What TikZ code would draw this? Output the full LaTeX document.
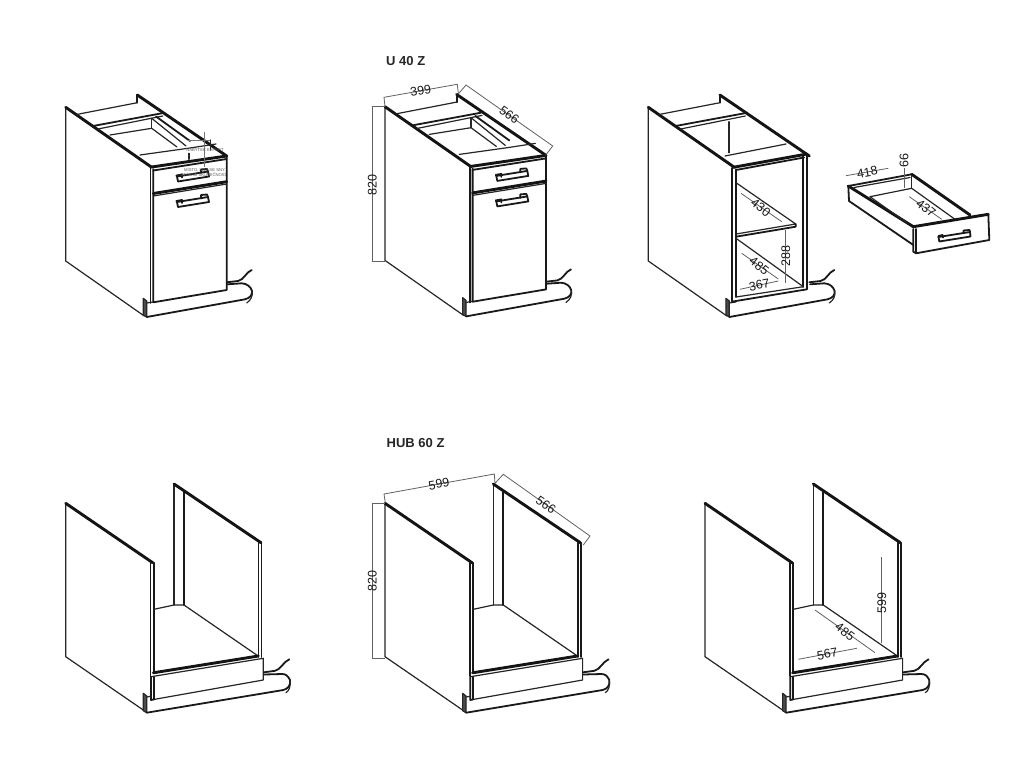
\documentclass[tikz,border=0pt]{standalone}
\usepackage{fontspec}
\setmainfont{Liberation Sans}
\tikzset{
  heavy/.style={line width=2.9pt,draw=black!92,line cap=round,line join=round},
  med/.style={line width=1.8pt,draw=black!90,line cap=round,line join=round},
  fine/.style={line width=1.2pt,draw=black!85,line cap=round,line join=round},
  dimline/.style={line width=.8pt,draw=black!62},
  dimtext/.style={font=\fontsize{12.5}{12.5}\selectfont,text=black!90,inner sep=0pt},
  titletext/.style={font=\fontsize{13}{13}\selectfont\bfseries,text=black!85,inner sep=0pt,anchor=west},
  wmline/.style={line width=.5pt,draw=black!55},
  marktext/.style={font=\fontsize{4.2}{5}\selectfont,text=black!65,inner sep=0pt,align=center}
}
\newcommand{\plinthU}{
  \draw[fine,fill=black!70] (143.3,298.3) -- (143.3,315) -- (146.7,317) -- (146.7,301) -- cycle;
  \draw[fine] (146.7,303) -- (153.3,302);
  \draw[med] (146.7,317) -- (245,299.3) .. controls (250,298) and (252.5,295) .. (252,291)
     .. controls (251,287) and (247,283.5) .. (241.7,283.3) -- (227.5,284.3);
  \draw[med] (226.7,282.3) -- (238,281) .. controls (244,280) and (246,272) .. (251.7,270);
  \draw[fine] (252,291) .. controls (253,296) and (251,300) .. (246.7,303);
}
\newcommand{\sideU}{
  \draw[fine] (65.7,107.3) -- (65.7,261) -- (144.3,316);
  \draw[heavy] (65.7,107.3) -- (151.7,167.3);
  \draw[heavy] (137.3,95) -- (226.7,156);
  \draw[med] (137.3,95) -- (137.3,102.7);
  \draw[fine] (76.5,114.5) -- (137.3,102.7);
  \draw[med] (93,126) -- (161.7,113.3);
  \draw[fine] (98,129) -- (162.7,116);
}
\newcommand{\handleU}[2]{
  \begin{scope}[shift={(#1,#2)}]
    \draw[med,fill=white] (0,0) -- (1,5) -- (32,0) -- (31,-5) -- cycle;
    \draw[med] (0,0) -- (-.5,-1) -- (5,-2) -- (5,1);
    \draw[med] (24,-3.5) -- (24,-7) -- (30,-7.5) -- (31,-5);
  \end{scope}
}
\newcommand{\frontU}{
  \draw[fine] (110,135) -- (151.7,128.3);
  \draw[fine] (151.7,118.3) -- (151.7,128.3);
  \draw[fine] (151.7,118.3) -- (186,146);
  \draw[med] (156,116.5) -- (190,141);
  \draw[fine] (151.7,128.3) -- (177,147);
  \draw[fine] (140,155) -- (190,148) -- (216,144);
  \draw[med] (150.5,167) -- (150.5,303);
  \draw[med] (153.3,169.3) -- (153.3,302.3) -- (226.7,290) -- (226.7,156);
  \draw[heavy] (151.7,167) -- (226.7,156);
  \draw[med] (153.3,170.5) -- (226.7,159);
  \draw[heavy] (153.3,193.5) -- (226.7,181.7);
  \draw[fine] (153.3,196) -- (226.7,184);
  \handleU{177}{176.5}
  \handleU{177}{202}
}
\newcommand{\lowerbody}{
  \draw[fine] (65.7,503.3) -- (65.7,656.7) -- (144.3,710.7);
  \draw[heavy] (65.7,503.3) -- (152.7,562.7);
  \draw[med] (150.5,562.7) -- (150.5,676);
  \draw[med] (153.7,562.7) -- (153.7,673);
  \draw[fine] (154,609.3) -- (174,605) -- (184,605);
  \draw[fine] (174,484) -- (174,605);
  \draw[med] (184,491.7) -- (184,605);
  \draw[heavy] (174,484) -- (261,542.7);
  \draw[fine] (184,605) -- (256.7,655);
  \draw[med] (258.5,542.7) -- (258.5,657);
  \draw[med] (261.5,542.7) -- (261.5,657);
  \draw[heavy] (153.3,672.8) -- (258.3,656);
  \draw[fine] (151,676.7) -- (263.3,658.3) -- (263.3,680) -- (153.5,699.5);
  \draw[med] (151,676.7) -- (151,700) -- (153.5,699.5);
  \draw[med] (153.7,677) -- (153.7,699.5);
  \draw[fine,fill=black!70] (143.3,693.3) -- (143.3,710.7) -- (146.7,712.7) -- (146.7,696) -- cycle;
  \draw[fine] (146.7,697) -- (151,696.3);
  \draw[med] (146.7,712.7) -- (283.3,690) .. controls (288,689) and (291,685) .. (290,680)
     .. controls (288,676) and (286,674) .. (282,674) -- (264,674.5);
  \draw[med] (263.8,672.3) -- (275,670.8) .. controls (281,669.5) and (283,662) .. (289.3,659.3);
  \draw[fine] (290,680) .. controls (291,686) and (289,691) .. (286,692.7);
}
\newcommand{\dimtxt}[5]{\node[dimtext,rotate=#4] (#1) at (#2,#3) {#5};}
\begin{document}
\begin{tikzpicture}[x=1pt,y=-1pt]
\useasboundingbox (0,0) rectangle (1024,768);
\fill[white] (0,0) rectangle (1024,768);

% upper left cabinet
\sideU \plinthU \frontU
\draw[wmline] (204.3,132) -- (204.3,166.7) (188,140) -- (210.7,140);
\draw[fine] (210.7,140) -- (210.7,150) (189,153.3) -- (189,159.3);
\node[marktext] (wm1) at (205,150) {NÁBYTEK EXPERT};
\node[marktext] (wm2) at (204.5,172) {MÍSTO, KDE SE SNY\\STÁVAJÍ SKUTEČNOSTÍ};

% upper middle cabinet
\begin{scope}[shift={(319.3,-.6)}]
  \sideU \plinthU \frontU
\end{scope}
\node[titletext] (t1) at (386,60.7) {U 40 Z};
\coordinate (a1) at (385,106.7); \coordinate (a2) at (384,97.3);
\coordinate (a3) at (457.3,84.3); \coordinate (a4) at (458.3,93.3);
\draw[dimline] (a1) -- (a2) -- (a3) -- (a4);
\coordinate (b1) at (458.3,94); \coordinate (b2) at (466,85);
\coordinate (b3) at (552.7,146); \coordinate (b4) at (545.7,155);
\draw[dimline] (b1) -- (b2) -- (b3) -- (b4);
\coordinate (c1) at (385,106.7); \coordinate (c2) at (372.3,106.7);
\coordinate (c3) at (372.3,261.7); \coordinate (c4) at (385,261.7);
\draw[dimline] (c1) -- (c2) -- (c3) -- (c4);
\dimtxt{d399}{420.7}{90.7}{10}{399}
\dimtxt{d566}{509.3}{115}{-35}{566}
\dimtxt{d820}{372.3}{185}{90}{820}

% upper right cabinet
\begin{scope}[shift={(582.6,0)}]
  \sideU \plinthU
\end{scope}
\draw[fine] (729,121.7) -- (729,152.7);
\draw[fine] (725,156) -- (786,144);
\draw[med] (731.7,168) -- (731.7,301.7);
\draw[med] (736,169.3) -- (736,297);
\draw[med] (803.3,156) -- (803.3,287);
\draw[med] (807.3,155) -- (807.3,289);
\draw[heavy] (733.3,167.3) -- (807,154);
\draw[med] (736,170) -- (804,157.5);
\draw[med] (731.7,301.7) -- (807,289.3);
\draw[fine] (736,297) -- (803.3,286.7);
\draw[fine] (736,182.7) -- (795.7,224) -- (736,234);
\draw[med] (736,236.7) -- (795.7,226.7) -- (795.7,224);
\draw[fine] (736,238.3) -- (803.3,286.7);
\coordinate (e1) at (741,193.3); \coordinate (e2) at (781.7,221.7);
\draw[dimline] (e1) -- (e2);
\coordinate (f1) at (785.7,230); \coordinate (f2) at (785.7,283);
\draw[dimline] (f1) -- (f2);
\coordinate (g1) at (741.7,253.3); \coordinate (g2) at (778.3,279);
\draw[dimline] (g1) -- (g2);
\coordinate (h1) at (740,289.3); \coordinate (h2) at (778.3,281);
\draw[dimline] (h1) -- (h2);
\dimtxt{d430}{760.7}{207.7}{-38}{430}
\dimtxt{d288}{785.7}{255.7}{90}{288}
\dimtxt{d485}{759.3}{266}{-38}{485}
\dimtxt{d367}{759.3}{285}{10}{367}

% drawer
\draw[med] (848.3,186) -- (849,201) -- (913.3,245);
\draw[heavy] (848.3,186) -- (913.3,226.7);
\draw[med] (848.3,186) -- (911.7,174.3);
\draw[heavy] (911.7,174.3) -- (970,215);
\draw[fine] (854,187.5) -- (910,177.5);
\draw[fine] (870,196.7) -- (911.7,188.3) -- (955,219.3);
\draw[fine] (911.7,176) -- (911.7,188.3);
\draw[fine] (870,196.7) -- (907,223);
\draw[heavy] (913.3,226.7) -- (988.3,214.3);
\draw[med] (913.3,229) -- (913.3,251.7) -- (916,253.3) -- (989.3,240) -- (988.3,214.3);
\draw[med] (916,229) -- (916,253);
\begin{scope}[shift={(938.5,237)}]
  \draw[med,fill=white] (0,0) -- (.8,4.5) -- (32,-.5) -- (31.5,-5) -- cycle;
  \draw[med] (0,0) -- (0,-1) -- (4,-2) -- (4.5,.5);
  \draw[med] (25,-4) -- (25,-6.5) -- (31,-7) -- (31.5,-5);
\end{scope}
\coordinate (i1) at (846,175.7); \coordinate (i2) at (888.3,168.3);
\draw[dimline] (i1) -- (i2);
\coordinate (j1) at (904,168.3); \coordinate (j2) at (904,188.3);
\draw[dimline] (j1) -- (j2);
\coordinate (k1) at (909.3,196.7); \coordinate (k2) at (941.7,219.3);
\draw[dimline] (k1) -- (k2);
\dimtxt{d418}{867.3}{172.3}{10}{418}
\dimtxt{d66}{904}{160.7}{90}{66}
\dimtxt{d437}{926}{208.3}{-38}{437}

% lower cabinets
\lowerbody
\begin{scope}[shift={(319.3,0)}] \lowerbody \end{scope}
\begin{scope}[shift={(639.3,0)}] \lowerbody \end{scope}

\node[titletext] (t2) at (386.5,443.5) {HUB 60 Z};
\coordinate (l1) at (385.3,502.7); \coordinate (l2) at (384,494);
\coordinate (l3) at (494.3,474); \coordinate (l4) at (495,483.3);
\draw[dimline] (l1) -- (l2) -- (l3) -- (l4);
\coordinate (m1) at (495,483.3); \coordinate (m2) at (503.3,474.3);
\coordinate (m3) at (590,536); \coordinate (m4) at (583.3,545);
\draw[dimline] (m1) -- (m2) -- (m3) -- (m4);
\coordinate (n1) at (385,503.3); \coordinate (n2) at (372.3,503.3);
\coordinate (n3) at (372.3,658.3); \coordinate (n4) at (385,658.3);
\draw[dimline] (n1) -- (n2) -- (n3) -- (n4);
\dimtxt{d599a}{439}{484}{10}{599}
\dimtxt{d566b}{546}{505}{-35}{566}
\dimtxt{d820b}{372.3}{581}{90}{820}

\coordinate (o1) at (881.7,557.3); \coordinate (o2) at (881.7,643.3);
\draw[dimline] (o1) -- (o2);
\coordinate (p1) at (815,610); \coordinate (p2) at (875,652.7);
\draw[dimline] (p1) -- (p2);
\coordinate (q1) at (798.3,659.3); \coordinate (q2) at (856.7,648.3);
\draw[dimline] (q1) -- (q2);
\dimtxt{d599b}{881.7}{603.3}{90}{599}
\dimtxt{d485b}{845}{631.7}{-37}{485}
\dimtxt{d567}{827.3}{654}{10}{567}
\end{tikzpicture}
\end{document}
